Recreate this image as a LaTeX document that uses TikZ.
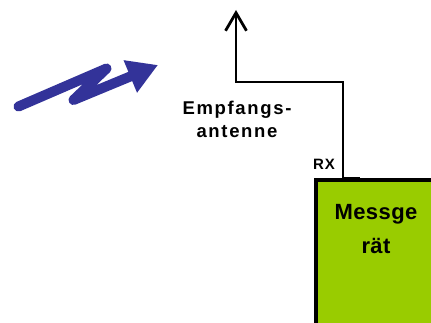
\documentclass[tikz,border=0pt]{standalone}
\usepackage{fontspec}
\setmainfont{Liberation Sans}
\newfontfamily\weit[LetterSpace=9]{Liberation Sans}
\newfontfamily\mittel[LetterSpace=2]{Liberation Sans}
\newfontfamily\klein[LetterSpace=6]{Liberation Sans}
\usetikzlibrary{arrows.meta}
\definecolor{funkblau}{HTML}{333399}
\definecolor{gruen}{HTML}{99CC00}
\tikzset{
  funk/.style={draw=funkblau, line width=10pt, line cap=round, line join=round},
  ant/.style={draw=black, line width=2.8pt},
  kabel/.style={draw=black, line width=2pt},
  gehaeuse/.style={draw=black, fill=gruen, line width=4.5pt},
  lab/.style={font=\weit\bfseries\fontsize{18.5}{23}\selectfont, align=center, inner sep=0pt},
  labg/.style={font=\mittel\bfseries\fontsize{22}{34}\selectfont, align=center, inner sep=0pt},
  labrx/.style={font=\klein\bfseries\fontsize{15}{16}\selectfont, inner sep=0pt},
}
\begin{document}
\begin{tikzpicture}[x=1pt,y=-1pt]
  \useasboundingbox (0,0) rectangle (431,323);
  \clip (0,0) rectangle (431,323);
  % Messgeraet
  \draw[gehaeuse] (316.2,179.8) rectangle (470,360);
  \node[labg,anchor=north] (mg) at (376,204.3) {Messge\\rät};
  % Antenne
  \coordinate (fuss) at (236,82);
  \coordinate (spitze) at (236,10);
  \coordinate (rx) at (342.5,178);
  \draw[ant,-{Straight Barb[length=18pt,width=21pt,line width=2.8pt]}] (fuss) -- (spitze);
  \draw[kabel,line cap=rect] (fuss) -| (rx);
  \draw[kabel] (rx) -- ++(17,0);
  \node[labrx,anchor=base west] (rxlab) at (313,170) {RX};
  \node[lab,anchor=north] (antlab) at (237,101) {Empfangs-\\antenne};
  % Funkstrecke
  \coordinate (f0) at (18.5,106.5);
  \coordinate (f1) at (106.5,68.5);
  \coordinate (f2) at (73.5,100);
  \coordinate (f3) at (158,65);
  \draw[funk,-{Triangle[length=30pt,width=33pt]}] (f0) -- (f1) -- (f2) -- (f3);
\end{tikzpicture}
\end{document}
